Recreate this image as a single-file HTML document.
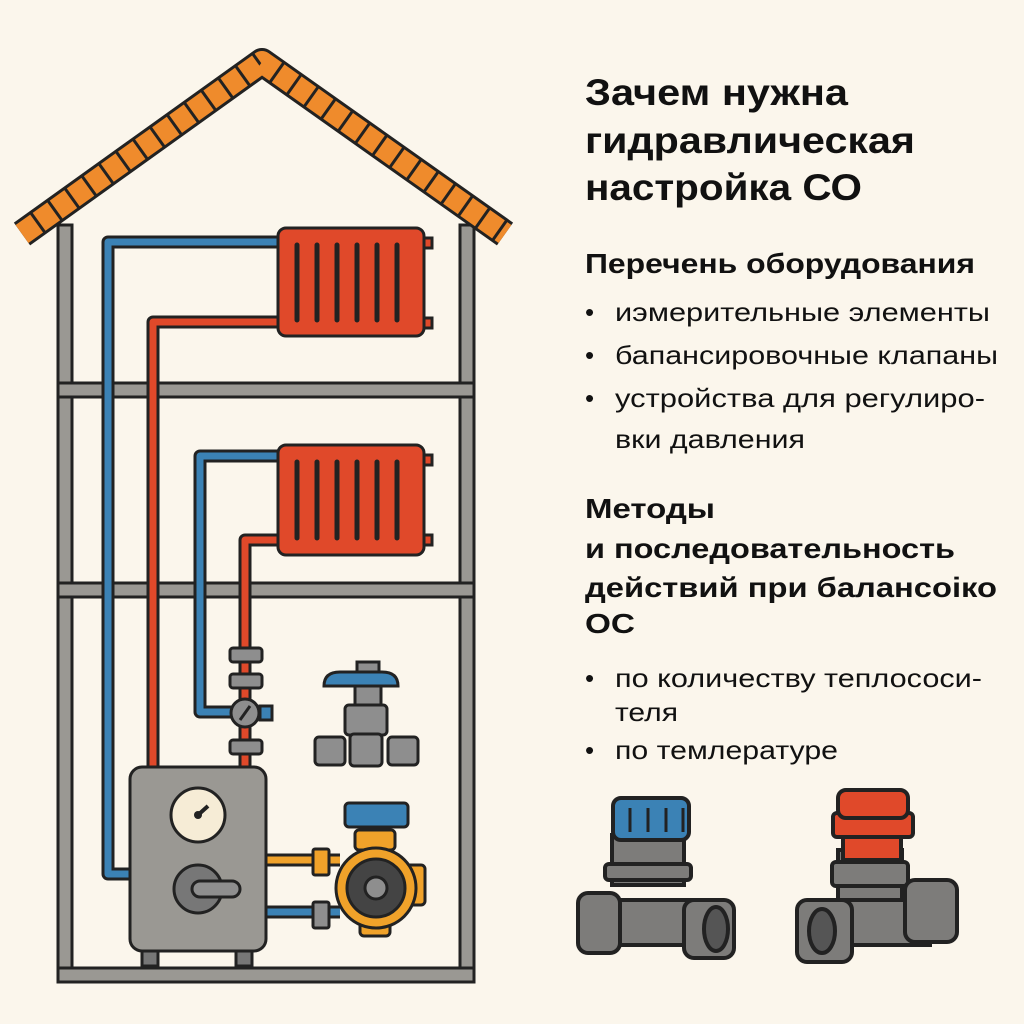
<!DOCTYPE html>
<html><head><meta charset="utf-8"><style>
body{margin:0;background:#fbf6ec;}
svg{display:block}
text{font-family:"Liberation Sans","DejaVu Sans",sans-serif;fill:#111}
.t{font-weight:bold;font-size:37px}
.h{font-weight:bold;font-size:28px}
.b{font-size:26px}
</style></head><body>
<svg width="1024" height="1024" viewBox="0 0 1024 1024" xmlns="http://www.w3.org/2000/svg">
<rect width="1024" height="1024" fill="#fbf6ec"/>
<g stroke="#222" stroke-width="3" fill="#9a9893">
<rect x="58" y="225" width="14" height="755"/>
<rect x="460" y="225" width="14" height="755"/>
<rect x="58" y="383" width="416" height="14"/>
<rect x="58" y="583" width="416" height="14"/>
<rect x="58" y="968" width="416" height="14"/>
</g>
<!-- roof -->
<path d="M22,234 L262,62 L505,234" fill="none" stroke="#222" stroke-width="28" stroke-linejoin="round"/>
<path d="M22,234 L262,62 L505,234" fill="none" stroke="#ef8b2c" stroke-width="22" stroke-dasharray="18 3" stroke-linejoin="round"/>
<!-- pipes -->
<g fill="none" stroke-linejoin="round">
<path d="M280,242 H108 V874 H132" stroke="#222" stroke-width="13"/>
<path d="M280,242 H108 V874 H132" stroke="#3b82b5" stroke-width="7"/>
<path d="M280,322 H153 V770" stroke="#222" stroke-width="13"/>
<path d="M280,322 H153 V770" stroke="#e0492a" stroke-width="7"/>
<path d="M280,456 H200 V712 H245" stroke="#222" stroke-width="13"/>
<path d="M280,456 H200 V712 H245" stroke="#3b82b5" stroke-width="7"/>
<path d="M280,540 H245 V770" stroke="#222" stroke-width="13"/>
<path d="M280,540 H245 V770" stroke="#e0492a" stroke-width="7"/>
<path d="M266,860 H340" stroke="#222" stroke-width="13"/>
<path d="M266,860 H340" stroke="#f0a22a" stroke-width="7"/>
<path d="M266,912 H340" stroke="#222" stroke-width="13"/>
<path d="M266,912 H340" stroke="#3b82b5" stroke-width="7"/>
</g>
<!-- radiators -->
<g stroke="#222" stroke-width="3">
<rect x="278" y="228" width="146" height="108" rx="8" fill="#e0492a"/>
<rect x="278" y="445" width="146" height="110" rx="8" fill="#e0492a"/>
<rect x="424" y="238" width="8" height="10" fill="#e0492a"/><rect x="424" y="318" width="8" height="10" fill="#e0492a"/>
<rect x="424" y="455" width="8" height="10" fill="#e0492a"/><rect x="424" y="535" width="8" height="10" fill="#e0492a"/>
</g>
<g stroke="#222" stroke-width="5" stroke-linecap="round">
<path d="M297,245V320M317,245V320M337,245V320M357,245V320M377,245V320M397,245V320"/>
<path d="M297,462V538M317,462V538M337,462V538M357,462V538M377,462V538M397,462V538"/>
</g>
<!-- valve stack -->
<g stroke="#222" stroke-width="3" fill="#8e8e8e">
<rect x="230" y="648" width="32" height="14" rx="3"/>
<rect x="230" y="674" width="32" height="14" rx="3"/>
<rect x="230" y="740" width="32" height="14" rx="3"/>
<rect x="260" y="706" width="12" height="14" fill="#3b82b5"/>
<circle cx="245" cy="713" r="14"/>
<path d="M240,720 L250,706" fill="none"/>
</g>
<!-- right valve -->
<g stroke="#222" stroke-width="3" fill="#8e8e8e">
<rect x="357" y="662" width="22" height="10"/>
<path d="M324,686 Q324,672 340,672 H382 Q398,672 398,686 Z" fill="#3b82b5"/>
<rect x="355" y="686" width="26" height="20"/>
<rect x="345" y="705" width="42" height="30" rx="4"/>
<rect x="350" y="734" width="32" height="32" rx="4"/>
<rect x="315" y="737" width="30" height="28" rx="4"/>
<rect x="388" y="737" width="30" height="28" rx="4"/>
</g>
<!-- boiler -->
<g stroke="#222" stroke-width="3">
<rect x="142" y="948" width="16" height="18" fill="#777"/>
<rect x="236" y="948" width="16" height="18" fill="#777"/>
<rect x="130" y="767" width="136" height="184" rx="12" fill="#9a9893"/>
<circle cx="198" cy="815" r="27" fill="#f6ecd6"/>
<circle cx="198" cy="889" r="24" fill="#777"/>
<rect x="192" y="881" width="48" height="16" rx="8" fill="#8e8e8e"/>
</g>
<path d="M198,815 L208,806" stroke="#222" stroke-width="4"/>
<circle cx="198" cy="815" r="4" fill="#222"/>
<!-- pump -->
<g stroke="#222" stroke-width="3">
<rect x="313" y="849" width="16" height="26" rx="2" fill="#f0a22a"/>
<rect x="313" y="902" width="16" height="26" rx="2" fill="#8e8e8e"/>
<rect x="403" y="865" width="22" height="40" rx="4" fill="#f0a22a"/>
<rect x="355" y="830" width="40" height="20" rx="4" fill="#f0a22a"/>
<rect x="360" y="918" width="30" height="18" rx="4" fill="#f0a22a"/>
<rect x="345" y="803" width="63" height="24" rx="4" fill="#3b82b5"/>
<circle cx="376" cy="888" r="40" fill="#f0a22a"/>
<circle cx="376" cy="888" r="29" fill="#444"/>
<circle cx="376" cy="888" r="11" fill="#8e8e8e"/>
</g>
<!-- bottom valves -->
<g stroke="#222" stroke-width="4" fill="#7d7c7a">
<rect x="612" y="835" width="72" height="50" fill="#7d7c7a"/>
<rect x="605" y="864" width="86" height="16" rx="4"/>
<path d="M600,900 H710 V945 H610 Z"/>
<rect x="578" y="893" width="42" height="60" rx="10"/>
<rect x="684" y="900" width="50" height="58" rx="10"/>
<ellipse cx="716" cy="929" rx="12" ry="22" fill="#555"/>
<rect x="613" y="798" width="76" height="42" rx="8" fill="#3b82b5"/>
</g>
<g stroke="#222" stroke-width="3"><path d="M630,808V832M648,808V832M666,808V832M683,808V832"/></g>
<g stroke="#222" stroke-width="4" fill="#7d7c7a">
<rect x="838" y="850" width="64" height="50"/>
<rect x="832" y="862" width="76" height="24" rx="4"/>
<path d="M820,900 H930 V945 H830 Z"/>
<rect x="905" y="880" width="52" height="62" rx="10"/>
<rect x="797" y="900" width="55" height="62" rx="10"/>
<ellipse cx="822" cy="931" rx="13" ry="22" fill="#555"/>
<rect x="843" y="820" width="58" height="40" fill="#e0492a"/>
<rect x="833" y="813" width="80" height="24" rx="4" fill="#e0492a"/>
<rect x="838" y="790" width="70" height="28" rx="8" fill="#e0492a"/>
</g>
<!-- text -->
<text class="t" x="585" y="105" textLength="263" lengthAdjust="spacingAndGlyphs">Зачем нужна</text>
<text class="t" x="585" y="153" textLength="330" lengthAdjust="spacingAndGlyphs">гидравлическая</text>
<text class="t" x="585" y="200" textLength="277" lengthAdjust="spacingAndGlyphs">настройка СО</text>
<text class="h" x="585" y="273" textLength="390" lengthAdjust="spacingAndGlyphs">Перечень оборудования</text>
<text class="b" x="585" y="321">•</text><text class="b" x="615" y="321" textLength="375" lengthAdjust="spacingAndGlyphs">иэмерительные элементы</text>
<text class="b" x="585" y="364">•</text><text class="b" x="615" y="364" textLength="383" lengthAdjust="spacingAndGlyphs">бапансировочные клапаны</text>
<text class="b" x="585" y="407">•</text><text class="b" x="615" y="407" textLength="370" lengthAdjust="spacingAndGlyphs">устройства для регулиро-</text>
<text class="b" x="615" y="448" textLength="190" lengthAdjust="spacingAndGlyphs">вки давления</text>
<text class="h" x="585" y="518" textLength="130" lengthAdjust="spacingAndGlyphs">Методы</text>
<text class="h" x="585" y="558" textLength="370" lengthAdjust="spacingAndGlyphs">и последовательность</text>
<text class="h" x="585" y="597" textLength="412" lengthAdjust="spacingAndGlyphs">действий при балансоіко</text>
<text class="h" x="585" y="633" textLength="50" lengthAdjust="spacingAndGlyphs">ОС</text>
<text class="b" x="585" y="687">•</text><text class="b" x="615" y="687" textLength="367" lengthAdjust="spacingAndGlyphs">по количеству теплососи-</text>
<text class="b" x="615" y="721" textLength="63" lengthAdjust="spacingAndGlyphs">теля</text>
<text class="b" x="585" y="759">•</text><text class="b" x="615" y="759" textLength="223" lengthAdjust="spacingAndGlyphs">по темлературе</text>
</svg>
</body></html>
